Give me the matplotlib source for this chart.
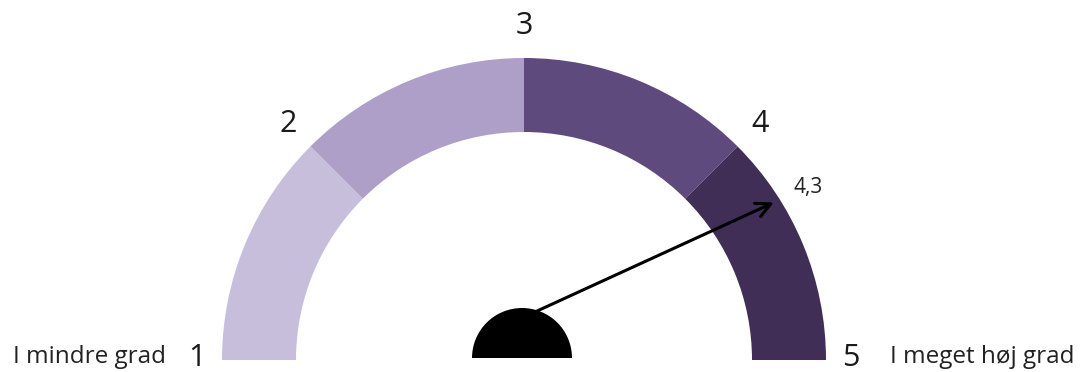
import numpy as np
import matplotlib.pyplot as plt
from matplotlib.patches import Wedge

# gauge scale and reading
scale_values = [1, 2, 3, 4, 5]
band_colors = ['#c6bedb', '#ae9fc8', '#5f4a7d', '#402e57']
reading = 4.3
reading_label = '4,3'
low_label = 'I mindre grad'
high_label = 'I meget høj grad'

plt.rcParams['font.family'] = ['Open Sans', 'DejaVu Sans']

fig = plt.figure(figsize=(10.88, 3.72), dpi=100)
ax = fig.add_axes([0, 0, 1, 1])
ax.set_xlim(0, 1088)
ax.set_ylim(0, 372)
ax.set_aspect('equal')
ax.axis('off')

cx, cy = 524, 12
r_out, r_in = 302, 228
vmin, vmax = scale_values[0], scale_values[-1]


def to_angle(v):
    return 180 - (v - vmin) / (vmax - vmin) * 180


# coloured bands between neighbouring scale values
for lo, hi, col in zip(scale_values[:-1], scale_values[1:], band_colors):
    ax.add_patch(Wedge((cx, cy), r_out, to_angle(hi), to_angle(lo),
                       width=r_out - r_in, facecolor=col, edgecolor='none'))

# scale numbers around the arc
for v in scale_values:
    a = np.radians(to_angle(v))
    if v in (vmin, vmax):
        x, y = cx + 327 * np.cos(a), cy + 2
    else:
        x, y = cx + 334 * np.cos(a), cy + 334 * np.sin(a)
    ax.text(x, y, str(v), ha='center', va='center', fontsize=22, color='#1a1a1a')

ax.text(166, cy + 3, low_label, ha='right', va='center', fontsize=17.5, color='#222222')
ax.text(890, cy + 3, high_label, ha='left', va='center', fontsize=17.5, color='#222222')

# needle
a = np.radians(to_angle(reading))
ax.annotate('', xy=(cx + 296 * np.cos(a), cy + 296 * np.sin(a) + 4), xytext=(cx, cy + 43),
            arrowprops=dict(arrowstyle='->', color='black', lw=2.2,
                            mutation_scale=26))
ax.text(cx + 331 * np.cos(a) + 2, cy + 331 * np.sin(a), reading_label,
        ha='center', va='center', fontsize=15, color='#222222')

# hub
ax.add_patch(Wedge((cx - 2, cy + 2), 50, 0, 180, facecolor='black', edgecolor='none'))

fig.savefig('out.png', dpi=100)
